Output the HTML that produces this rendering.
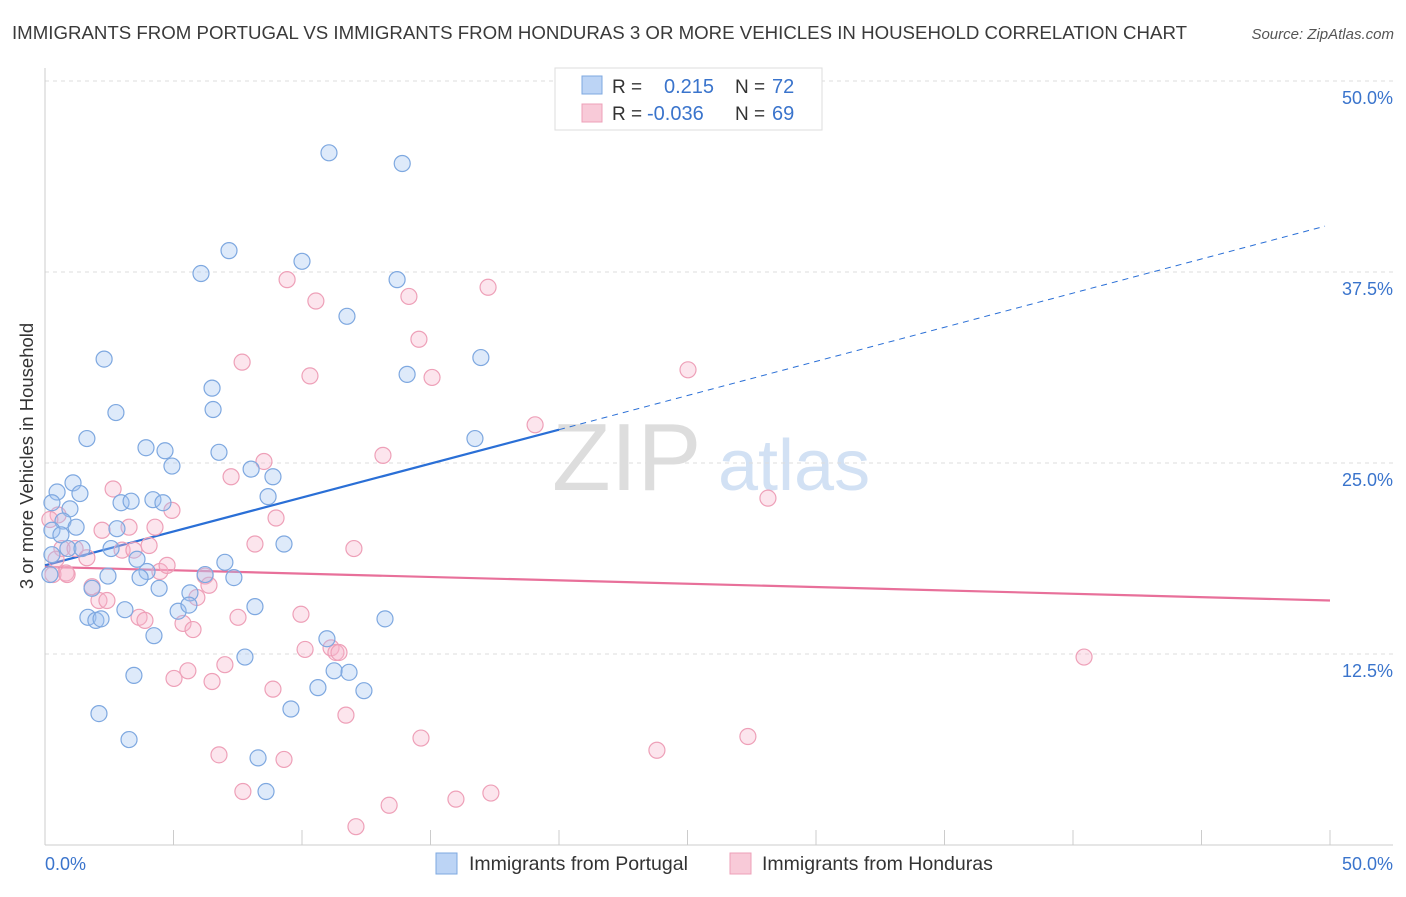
<!DOCTYPE html>
<html><head><meta charset="utf-8"><style>
body{margin:0;background:#fff;font-family:"Liberation Sans",sans-serif}
svg text{font-family:"Liberation Sans",sans-serif}
</style></head><body>
<svg id="chart" width="1406" height="892" viewBox="0 0 1406 892">
<text x="12" y="39" font-size="18.5" fill="#3a3a3a" textLength="1175" lengthAdjust="spacingAndGlyphs">IMMIGRANTS FROM PORTUGAL VS IMMIGRANTS FROM HONDURAS 3 OR MORE VEHICLES IN HOUSEHOLD CORRELATION CHART</text>
<text x="1394" y="39" font-size="15" fill="#555" font-style="italic" text-anchor="end">Source: ZipAtlas.com</text>
<g>
<text x="552" y="490" font-size="96" fill="#ddd" font-family="Liberation Serif,serif">ZIP</text>
<text x="718" y="490" font-size="72" fill="#d2e1f4">atlas</text>
</g>
<g id="grid"></g><g id="axes"></g><g id="lines"></g><g id="pts"></g>
<text transform="translate(33,456) rotate(-90)" font-size="18.5" fill="#333" text-anchor="middle">3 or more Vehicles in Household</text>
<g>
<rect x="555" y="68" width="267" height="62" fill="#fff" stroke="#ddd"/>
<rect x="582" y="76" width="20" height="18" fill="#bcd4f5" stroke="#7ea8e0"/>
<rect x="582" y="104" width="20" height="18" fill="#f8cad8" stroke="#eea0b8"/>
<text x="612" y="93" font-size="19" fill="#333">R =</text><text x="664" y="93" font-size="20" fill="#3a74cc">0.215</text>
<text x="735" y="93" font-size="19" fill="#333">N =</text><text x="772" y="93" font-size="20" fill="#3a74cc">72</text>
<text x="612" y="120" font-size="19" fill="#333">R =</text><text x="647" y="120" font-size="20" fill="#3a74cc">-0.036</text>
<text x="735" y="120" font-size="19" fill="#333">N =</text><text x="772" y="120" font-size="20" fill="#3a74cc">69</text>
</g>
<g>
<rect x="436" y="853" width="21" height="21" fill="#bcd4f5" stroke="#7ea8e0"/>
<text x="469" y="870" font-size="19.5" fill="#333">Immigrants from Portugal</text>
<rect x="730" y="853" width="21" height="21" fill="#f8cad8" stroke="#eea0b8"/>
<text x="762" y="870" font-size="19.5" fill="#333">Immigrants from Honduras</text>
</g>
</svg>
<script>
const xTicks=[0,5,10,15,20,25,30,35,40,45,50];
const yTicks=[12.5,25,37.5,50];
const yTickLabels=["12.5%","25.0%","37.5%","50.0%"];
const blueX=[11.05,13.9,7.16,6.07,10.0,13.7,11.75,2.3,16.96,14.09,6.5,6.54,2.76,1.63,16.73,3.93,4.67,4.94,6.77,8.02,8.87,1.09,0.47,1.36,2.96,3.35,4.2,4.59,8.68,0.97,0.27,0.7,1.21,2.8,0.27,0.62,0.89,1.44,2.57,3.58,3.97,3.7,2.45,6.23,7.35,7.0,1.83,4.44,5.64,3.11,5.18,5.6,8.17,1.67,1.98,2.18,13.23,4.24,10.97,7.78,11.25,11.83,3.46,10.62,12.41,9.57,2.1,3.27,8.29,8.6,9.3,0.19,0.27];
const blueY=[45.3,44.6,38.9,37.4,38.2,37.0,34.6,31.8,31.9,30.8,29.9,28.5,28.3,26.6,26.6,26.0,25.8,24.8,25.7,24.6,24.1,23.7,23.1,23.0,22.4,22.5,22.6,22.4,22.8,22.0,22.4,21.2,20.8,20.7,20.6,20.3,19.4,19.4,19.4,18.7,17.9,17.5,17.6,17.7,17.5,18.5,16.8,16.8,16.5,15.4,15.3,15.7,15.6,14.9,14.7,14.8,14.8,13.7,13.5,12.3,11.4,11.3,11.1,10.3,10.1,8.9,8.6,6.9,5.7,3.5,19.7,17.7,19.0];
const pinkX=[9.42,10.54,14.16,17.24,14.55,7.67,10.31,15.06,25.02,19.07,13.15,8.52,7.24,2.65,28.13,4.94,8.99,2.22,3.27,4.28,0.51,0.19,8.17,12.02,0.66,1.17,3.0,4.05,3.46,1.63,0.43,0.82,0.31,4.47,4.75,6.23,6.38,1.83,2.1,5.91,9.96,7.51,3.66,3.89,5.37,5.76,11.13,10.12,11.32,11.44,40.43,7.0,5.56,5.02,6.5,8.87,11.71,14.63,27.35,6.77,9.3,23.81,7.7,17.35,15.99,13.39,12.1,2.41,0.86];
const pinkY=[37.0,35.6,35.9,36.5,33.1,31.6,30.7,30.6,31.1,27.5,25.5,25.1,24.1,23.3,22.7,21.9,21.4,20.6,20.8,20.8,21.6,21.3,19.7,19.4,19.4,19.4,19.3,19.6,19.3,18.8,18.7,17.8,17.7,17.9,18.3,17.6,17.0,16.9,16.0,16.2,15.1,14.9,14.9,14.7,14.5,14.1,12.9,12.8,12.6,12.6,12.3,11.8,11.4,10.9,10.7,10.2,8.5,7.0,7.1,5.9,5.6,6.2,3.5,3.4,3.0,2.6,1.2,16.0,17.7];
const blueTrend=[18.3,40.5];
const pinkTrend=[18.2,16.0];
const NS="http://www.w3.org/2000/svg";
const X=v=>45+v*25.7, Y=v=>845-v*15.28;
function mk(p,t,a){const e=document.createElementNS(NS,t);for(const k in a)e.setAttribute(k,a[k]);document.getElementById(p).appendChild(e);return e;}
yTicks.forEach((t,i)=>{
 const g=mk('grid','line',{x1:45,x2:1393,y1:Y(t),y2:Y(t),stroke:'#ddd','stroke-dasharray':'4,4'});
 
 
 const l=mk('grid','text',{x:1393,y:Y(t)+23,'font-size':18,fill:'#3a74cc','text-anchor':'end'});
 l.textContent=yTickLabels[i];
 
 
});
mk('axes','line',{x1:45,x2:45,y1:68,y2:845,stroke:'#ccc'});
mk('axes','line',{x1:45,x2:1393,y1:845,y2:845,stroke:'#ccc'});
xTicks.forEach(t=>{const e=mk('axes','line',{x1:X(t),x2:X(t),y1:830,y2:845,stroke:'#ccc'});
 
 });
const x0=mk('axes','text',{x:45,y:870,'font-size':18,fill:'#3a74cc'});x0.textContent='0.0%';


const x1=mk('axes','text',{x:1393,y:870,'font-size':18,fill:'#3a74cc','text-anchor':'end'});x1.textContent='50.0%';


const bm=blueTrend[0]+(blueTrend[1]-blueTrend[0])*0.4;
const bl=mk('lines','line',{x1:X(0),y1:Y(blueTrend[0]),x2:X(20),y2:Y(bm),stroke:'#2a6fd6','stroke-width':2.2});


const bd=mk('lines','line',{x1:X(20),y1:Y(bm),x2:X(50)-5,y2:Y(blueTrend[1]),stroke:'#2a6fd6','stroke-width':1,'stroke-dasharray':'6,5'});


const pl=mk('lines','line',{x1:X(0),y1:Y(pinkTrend[0]),x2:X(50),y2:Y(pinkTrend[1]),stroke:'#e8709a','stroke-width':2.2});


pinkX.forEach((v,i)=>{const c=mk('pts','circle',{cx:X(v),cy:Y(pinkY[i]),r:8,fill:'rgba(246,180,202,0.35)',stroke:'#eea0b8','stroke-width':1.2});
 
 });
blueX.forEach((v,i)=>{const c=mk('pts','circle',{cx:X(v),cy:Y(blueY[i]),r:8,fill:'rgba(160,195,240,0.35)',stroke:'#7ea8e0','stroke-width':1.2});
 
 });
</script>
</body></html>
